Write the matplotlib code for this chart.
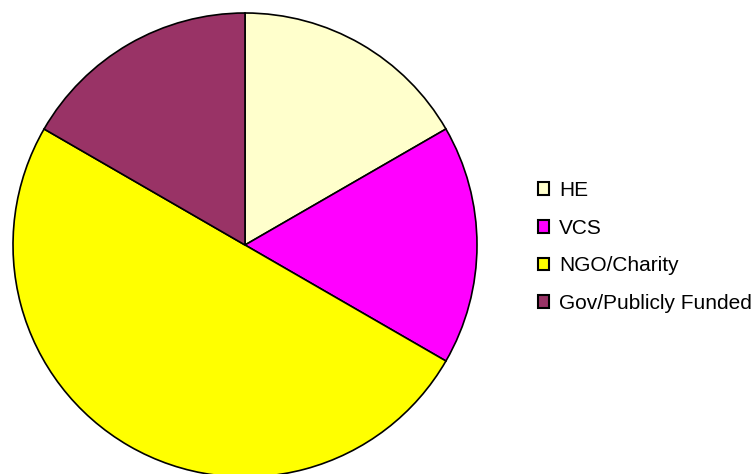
import matplotlib.pyplot as plt
from matplotlib.patches import Patch

labels = ['HE', 'VCS', 'NGO/Charity', 'Gov/Publicly Funded']
values = [1, 1, 3, 1]
colors = ['#FFFFCC', '#FF00FF', '#FFFF00', '#993366']

plt.rcParams['font.family'] = ['Liberation Sans', 'DejaVu Sans']

fig = plt.figure(figsize=(7.56, 4.74), dpi=100)
ax = fig.add_axes([13 / 756, -3 / 474, 464 / 756, 464 / 474])
ax.pie(values, colors=colors, startangle=90, counterclock=False,
       wedgeprops=dict(edgecolor='black', linewidth=1.2))
ax.set_xlim(-1, 1)
ax.set_ylim(-1, 1)
ax.set_aspect('equal')
ax.axis('off')

handles = [Patch(facecolor=c, edgecolor='black', linewidth=1.5) for c in colors]
fig.legend(handles, labels, loc='center left', bbox_to_anchor=(538 / 756, 1 - 247 / 474),
           frameon=False, fontsize=15, handlelength=0.55, handleheight=0.55,
           handletextpad=0.45, labelspacing=0.9, borderpad=0, borderaxespad=0)

fig.savefig('out.png', dpi=100)
